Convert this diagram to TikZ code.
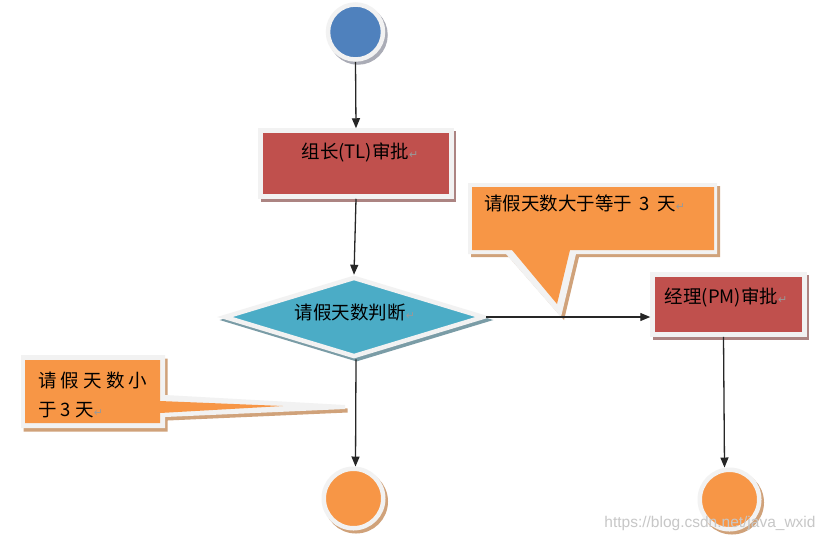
\documentclass[tikz,border=0pt]{standalone}
\usepackage{fontspec}
\newfontfamily\cjk{Noto Sans CJK SC}
\newfontfamily\symf{DejaVu Sans}
\newfontfamily\wmf{Liberation Sans}
\usetikzlibrary{shapes.geometric,arrows.meta}
\definecolor{cred}{HTML}{C0504D}
\definecolor{cblue}{HTML}{4F81BD}
\definecolor{ccyan}{HTML}{4BACC6}
\definecolor{corange}{HTML}{F79646}
\definecolor{cborder}{HTML}{F2F2F2}
\definecolor{shred}{RGB}{172,132,130}
\definecolor{shorange}{RGB}{208,162,122}
\definecolor{shblue}{RGB}{170,172,182}
\definecolor{shcyan}{RGB}{122,156,166}
\newcommand{\retmark}{{\symf\fontsize{11}{11}\selectfont\color{black!40}↵}}
\begin{document}
\begin{tikzpicture}[x=1pt,y=-1pt,
  shapebase/.style={draw=cborder, line width=4.5pt, inner sep=0pt},
  shadowed/.style={preaction={fill=#1, draw=#1, transform canvas={shift={(2.5pt,-3pt)}}}},
  redbox/.style={shapebase, rectangle, fill=cred, shadowed=shred},
  dia/.style={shapebase, diamond, fill=ccyan, shadowed=shcyan},
  startc/.style={shapebase, circle, fill=cblue, shadowed=shblue, minimum size=55pt},
  endc/.style={shapebase, circle, fill=corange, shadowed=shorange, minimum size=59.5pt},
  txt/.style={font=\cjk\fontsize{18.5}{18.5}\selectfont, inner sep=0pt, text=black},
  arr/.style={draw=black!85, line width=1.3pt, -{Triangle[length=10pt,width=8pt]}},
  wm/.style={font=\wmf\fontsize{15.5}{15.5}\selectfont, text=black!22, inner sep=0pt}
]
\useasboundingbox (0,0) rectangle (826,542);
\fill[white] (0,0) rectangle (826,542);

% callouts (drawn directly)
\fill[shorange, shift={(3,3)}] (468,183) -- (717,183) -- (717,254) -- (576,254) -- (561,317) -- (506,254) -- (468,254) -- cycle;
\fill[cborder] (468,183) -- (717,183) -- (717,254) -- (576,254) -- (561,317) -- (506,254) -- (468,254) -- cycle;
\fill[corange] (472,187) -- (714,187) -- (714,250) -- (570,250) -- (557,304) -- (512,250) -- (472,250) -- cycle;

\fill[shorange, shift={(2.5,3.5)}] (21,355) -- (165,355) -- (165,395) -- (345,405) -- (345,409) -- (165,417) -- (165,428) -- (21,428) -- cycle;
\fill[cborder] (21,355) -- (165,355) -- (165,395) -- (345,405) -- (345,409) -- (165,417) -- (165,428) -- (21,428) -- cycle;
\fill[corange] (25,360) -- (160,360) -- (160,401) -- (283,406) -- (160,413) -- (160,423) -- (25,423) -- cycle;

% nodes
\node[startc] (start) at (355.5,32) {};
\node[redbox, minimum width=191pt, minimum height=66pt] (tl) at (356,163.5) {};
\node[dia, minimum width=260pt, minimum height=80pt] (d) at (354,317) {};
\node[redbox, minimum width=152pt, minimum height=60pt] (pm) at (728.5,304.5) {};
\node[endc] (end1) at (353.5,498.5) {};
\node[endc] (end2) at (729.5,499.5) {};

% texts
\node[txt] (tltext) at (360,152) {组长(TL)审批\retmark};
\node[txt] (dtext) at (355,312) {请假天数判断\retmark};
\node[txt] (pmtext) at (726,297) {经理(PM)审批\retmark};
\node[txt, anchor=west] (c1text) at (484,203) {请假天数大于等于\hspace{0.4em}3\hspace{0.4em}天\retmark};
\node[txt, anchor=west] (c2text1) at (38,380) {请 假 天 数 小};
\node[txt, anchor=west] (c2text2) at (38,410) {于 3 天\retmark};
\node[wm] (wmark) at (710,523) {https://blog.csdn.net/java\_wxid};

% connectors
\draw[arr] (start.south) -- (tl.north);
\draw[arr] (tl.south) -- (d.north);
\draw[arr] (d.east) -- (d.east -| pm.west);
\draw[arr] ([xshift=2pt]d.south) -- ([xshift=2pt]end1.north);
\draw[arr] ([xshift=-5pt]pm.south) -- ([xshift=-5pt]end2.north);
\end{tikzpicture}
\end{document}
